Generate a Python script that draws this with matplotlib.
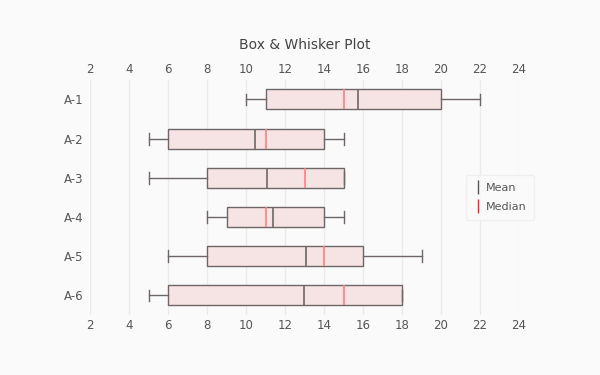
import matplotlib.pyplot as plt
from matplotlib.lines import Line2D

labels = ['A-1', 'A-2', 'A-3', 'A-4', 'A-5', 'A-6']
whislo = [10, 5, 5, 8, 6, 5]
q1 = [11, 6, 8, 9, 8, 6]
medians = [15, 11, 13, 11, 14, 15]
means = [15.75, 10.45, 11.1, 11.37, 13.1, 12.95]
q3 = [20, 14, 15, 14, 16, 18]
whishi = [22, 15, 15, 15, 19, 18]
xticks = [2, 4, 6, 8, 10, 12, 14, 16, 18, 20, 22, 24]

stats = []
for i in range(len(labels)):
    stats.append(dict(label=labels[i], whislo=whislo[i], q1=q1[i], med=medians[i],
                      mean=means[i], q3=q3[i], whishi=whishi[i], fliers=[]))

fig = plt.figure(figsize=(6, 3.75), dpi=100, facecolor='#fafafa')
ax = fig.add_axes([0.15, 0.16, 0.715, 0.627])
ax.set_facecolor('#fafafa')

pos = list(range(len(labels)))
ax.bxp(stats, positions=pos, orientation='horizontal', widths=0.51, patch_artist=True,
       showmeans=True, meanline=True,
       boxprops=dict(facecolor='#f6e4e4', edgecolor='#6e6666', linewidth=1),
       whiskerprops=dict(color='#6e6666', linewidth=1),
       capprops=dict(color='#6e6666', linewidth=1),
       capwidths=0.3,
       medianprops=dict(color='#ff8080', linewidth=1.2, linestyle='-'),
       meanprops=dict(color='#6e6666', linewidth=1.2, linestyle='-'))

ax.set_xlim(2, 24)
ax.set_ylim(len(labels) - 0.5, -0.5)
ax.set_xticks(xticks)
ax.set_yticks(pos)
ax.set_yticklabels(labels)
ax.tick_params(length=0, labelsize=8.5, colors='#555555', top=True, labeltop=True, pad=3)
ax.tick_params(axis='y', pad=5)
ax.grid(axis='x', color='#ebebeb', linewidth=1)
ax.set_axisbelow(True)
for s in ax.spines.values():
    s.set_visible(False)

ax.set_title('Box & Whisker Plot', fontsize=10, color='#444444', pad=22)

handles = [Line2D([], [], color='#555555', marker='|', linestyle='none', markersize=10),
           Line2D([], [], color='#ff2222', marker='|', linestyle='none', markersize=10)]
leg = ax.legend(handles, ['Mean', 'Median'], loc='center left', bbox_to_anchor=(0.876, 0.5),
                borderaxespad=0, frameon=True, fontsize=8, handlelength=0.8,
                handletextpad=0.3, labelspacing=0.85, borderpad=0.7, fancybox=True)
leg.get_frame().set_facecolor('#fbfbfb')
leg.get_frame().set_edgecolor('#eeeeee')
for t in leg.get_texts():
    t.set_color('#555555')

fig.savefig('out.png', dpi=100, facecolor=fig.get_facecolor())
